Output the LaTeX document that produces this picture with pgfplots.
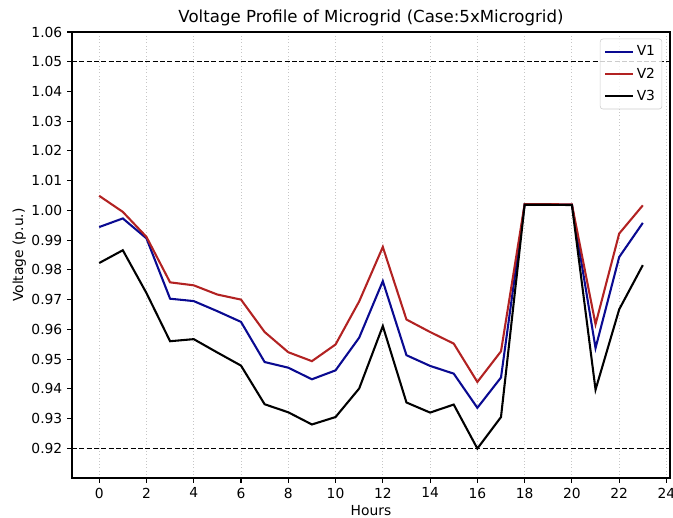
\documentclass[border=0pt]{standalone}
\usepackage{pgfplots}
\pgfplotsset{compat=1.18}
\usepackage{pgfplotstable}
\usepackage{fontspec}
\setmainfont{DejaVu Sans}
\definecolor{vone}{RGB}{10,10,145}
\definecolor{vtwo}{RGB}{178,34,34}
\pgfplotstableread{
h V1 V2 V3
0 0.9944 1.0049 0.9823
1 0.9973 0.9995 0.9866
2 0.9906 0.9911 0.9722
3 0.9703 0.9758 0.9560
4 0.9695 0.9748 0.9567
5 0.9661 0.9717 0.9522
6 0.9625 0.9700 0.9478
7 0.9490 0.9591 0.9348
8 0.9471 0.9523 0.9321
9 0.9432 0.9493 0.9280
10 0.9462 0.9549 0.9305
11 0.9572 0.9694 0.9401
12 0.9762 0.9877 0.9611
13 0.9513 0.9633 0.9354
14 0.9477 0.9591 0.9320
15 0.9451 0.9552 0.9347
16 0.9336 0.9423 0.9199
17 0.9438 0.9526 0.9305
18 1.0020 1.0021 1.0019
19 1.0020 1.0021 1.0019
20 1.0019 1.0020 1.0018
21 0.9537 0.9617 0.9397
22 0.9843 0.9922 0.9667
23 0.9958 1.0017 0.9816
}\voltdata
\begin{document}
\begin{tikzpicture}
\begin{axis}[
  name=ax,
  scale only axis,
  width=5.98in, height=4.46in,
  xmin=-1.15, xmax=24.15,
  ymin=0.91, ymax=1.06,
  xtick={0,2,...,24},
  ytick={0.92,0.93,0.94,0.95,0.96,0.97,0.98,0.99,1.00,1.01,1.02,1.03,1.04,1.05,1.06},
  yticklabel style={/pgf/number format/.cd, fixed, fixed zerofill, precision=2},
  /pgf/number format/assume math mode=true,
  tick align=outside,
  xtick pos=left, ytick pos=left,
  major tick length=3.5pt,
  tick style={black, line width=0.8pt},
  axis line style={line width=0.8pt},
  xmajorgrids,
  major grid style={dotted, line width=0.6pt, gray!45},
  ticklabel style={font=\fontsize{10}{12}\selectfont},
  xlabel={Hours}, ylabel={Voltage (p.u.)},
  label style={font=\fontsize{10}{12}\selectfont},
  xlabel style={yshift=2pt},
  ylabel style={yshift=-3pt},
  title={Voltage Profile of Microgrid (Case:5xMicrogrid)},
  title style={font=\fontsize{12}{14}\selectfont, yshift=-5pt},
  legend style={at={(0.987,0.985)}, anchor=north east, draw=black!20, rounded corners=2pt,
    font=\fontsize{10}{12}\selectfont, fill=white, fill opacity=0.8, text opacity=1,
    row sep=3pt, inner xsep=3pt, inner ysep=3pt},
  legend cell align=left,
  legend image code/.code={\draw[#1] (0cm,0cm) -- (0.7cm,0cm);},
]
\addplot[vone, line width=1.5pt, no markers] table[x=h, y=V1] {\voltdata};
\addlegendentry{V1}
\addplot[vtwo, line width=1.5pt, no markers] table[x=h, y=V2] {\voltdata};
\addlegendentry{V2}
\addplot[black, line width=1.5pt, no markers] table[x=h, y=V3] {\voltdata};
\addlegendentry{V3}
\draw[black, dashed, line width=1pt, dash pattern=on 3.7pt off 1.6pt] (axis cs:-1.15,1.05) -- (axis cs:24.15,1.05);
\draw[black, dashed, line width=1pt, dash pattern=on 3.7pt off 1.6pt] (axis cs:-1.15,0.92) -- (axis cs:24.15,0.92);
\end{axis}
\pgfresetboundingbox
\path ([shift={(-0.72in,-0.40in)}]ax.south west) rectangle ([shift={(0.03in,0.32in)}]ax.north east);
\end{tikzpicture}
\end{document}
